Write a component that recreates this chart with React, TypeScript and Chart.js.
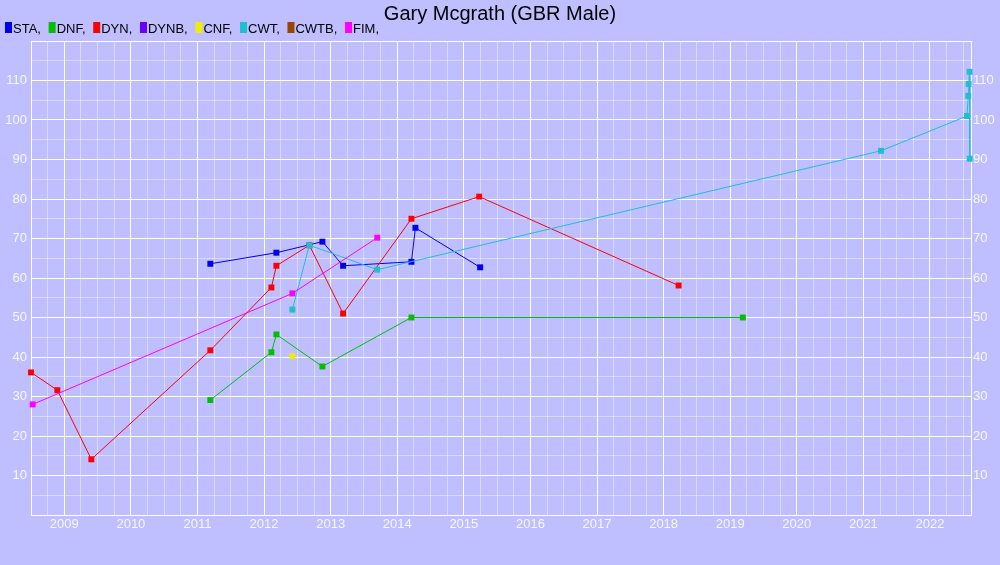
import React, { useEffect, useRef } from 'react';
import { Chart, registerables } from 'chart.js';

Chart.register(...registerables);

const chartTitle = 'Gary Mcgrath (GBR Male)';
const seriesNames = ['STA', 'DNF', 'DYN', 'DYNB', 'CNF', 'CWT', 'CWTB', 'FIM'];
const seriesColors = ['#0000EE', '#00C000', '#FF0000', '#6A00FF', '#EEEE00', '#1FBFCF', '#994400', '#FF00FF'];

// dates as decimal years, values in metres
const staDates = [2011.193, 2012.185, 2012.876, 2013.187, 2014.213, 2014.273, 2015.245];
const staValues = [63.6, 66.4, 69.2, 63.1, 64.1, 72.7, 62.7];

const dnfDates = [2011.193, 2012.11, 2012.185, 2012.876, 2014.213, 2019.19];
const dnfValues = [29.1, 41.2, 45.7, 37.6, 50.0, 50.0];

const dynDates = [2008.5, 2008.895, 2009.406, 2011.193, 2012.11, 2012.185, 2012.68, 2013.187, 2014.213, 2015.23, 2018.225];
const dynValues = [36.1, 31.6, 14.1, 41.7, 57.6, 63.1, 68.3, 51.0, 75.0, 80.6, 58.1];

const dynbDates: number[] = [];
const dynbValues: number[] = [];

const cnfDates = [2012.425];
const cnfValues = [40.2];

const cwtDates = [2012.425, 2012.68, 2013.7, 2021.264, 2022.555, 2022.575, 2022.58, 2022.595, 2022.597];
const cwtValues = [52.0, 68.3, 62.1, 92.2, 101.0, 106.1, 109.1, 112.2, 90.2];

const cwtbDates: number[] = [];
const cwtbValues: number[] = [];

const fimDates = [2008.525, 2012.425, 2013.7];
const fimValues = [28.0, 56.1, 70.2];

const seriesDates = [staDates, dnfDates, dynDates, dynbDates, cnfDates, cwtDates, cwtbDates, fimDates];
const seriesValues = [staValues, dnfValues, dynValues, dynbValues, cnfValues, cwtValues, cwtbValues, fimValues];

const yearTicks = [2009, 2010, 2011, 2012, 2013, 2014, 2015, 2016, 2017, 2018, 2019, 2020, 2021, 2022];
const valueTicks = [10, 20, 30, 40, 50, 60, 70, 80, 90, 100, 110];
const xMin = 2008.5;
const xMax = 2022.616;
const yMin = 0;
const yMax = 120;

const BG = '#BFBFFF';
const MAJOR = '#FFFFFF';
const MINOR = 'rgba(255,255,255,0.42)';
const LABEL = 'rgba(255,255,255,0.88)';
const FONT = '"Liberation Sans", Arial, sans-serif';

const decorPlugin = {
  id: 'decor',
  beforeDraw(chart: any) {
    const ctx = chart.ctx;
    ctx.save();
    ctx.fillStyle = BG;
    ctx.fillRect(0, 0, chart.width, chart.height);
    ctx.restore();
  },
  afterDraw(chart: any) {
    const ctx = chart.ctx;
    ctx.save();
    ctx.fillStyle = '#000000';
    ctx.font = '20px ' + FONT;
    ctx.textAlign = 'center';
    ctx.textBaseline = 'alphabetic';
    ctx.fillText(chartTitle, chart.width / 2, 19.5);
    ctx.font = '13px ' + FONT;
    ctx.textAlign = 'left';
    let x = 5;
    seriesNames.forEach((name, i) => {
      ctx.fillStyle = seriesColors[i];
      ctx.fillRect(x, 22, 7, 11);
      ctx.fillStyle = '#000000';
      const label = name + ',';
      ctx.fillText(label, x + 8, 32.5);
      x += 8 + ctx.measureText(label).width + 7.7;
    });
    ctx.restore();
  },
};

export default function App() {
  const ref = useRef<HTMLCanvasElement | null>(null);
  useEffect(() => {
    if (!ref.current) return;
    const datasets = seriesNames.map((name, i) => ({
      label: name,
      data: seriesDates[i].map((d, j) => ({ x: d, y: seriesValues[i][j] })),
      borderColor: seriesColors[i],
      backgroundColor: seriesColors[i],
      borderWidth: 1,
      pointStyle: 'rect',
      pointRadius: 4.2,
      pointBorderWidth: 0,
      pointBackgroundColor: seriesColors[i],
      showLine: true,
      fill: false,
      tension: 0,
      clip: false,
      order: seriesNames.length - i,
    }));
    const minorX: number[] = [];
    for (let y = yearTicks[0] - 1; y <= yearTicks[yearTicks.length - 1]; y++) {
      for (let q = 0; q < 4; q++) {
        const v = y + q * 0.25;
        if (v >= xMin && v <= xMax) minorX.push(v);
      }
    }
    const gridColor = (isMajor: (v: number) => boolean) => (c: any) =>
      c.tick && isMajor(c.tick.value) ? MAJOR : MINOR;
    const chart = new Chart(ref.current, {
      type: 'line',
      data: { datasets } as any,
      plugins: [decorPlugin],
      options: {
        responsive: false,
        animation: false,
        devicePixelRatio: 1,
        layout: { padding: { top: 41, left: 0, right: 0, bottom: 0 } },
        plugins: {
          legend: { display: false },
          title: { display: false },
          tooltip: { enabled: false },
        },
        scales: {
          x: {
            type: 'linear',
            min: xMin,
            max: xMax,
            afterBuildTicks: (s: any) => {
              s.ticks = minorX.map((v) => ({ value: v }));
            },
            afterFit: (s: any) => {
              s.height = 50;
            },
            grid: {
              color: gridColor((v) => yearTicks.includes(v)),
              lineWidth: 1,
              drawTicks: false,
            },
            border: { display: true, color: MAJOR, width: 1 },
            ticks: {
              autoSkip: false,
              maxRotation: 0,
              padding: 2,
              color: LABEL,
              font: { family: FONT, size: 13 },
              callback: (v: any) => (yearTicks.includes(Number(v)) ? String(v) : ''),
            },
          },
          y: {
            type: 'linear',
            position: 'left',
            min: yMin,
            max: yMax,
            afterBuildTicks: (s: any) => {
              const t: any[] = [];
              for (let v = yMin; v <= yMax; v += 5) t.push({ value: v });
              s.ticks = t;
            },
            afterFit: (s: any) => {
              s.width = 31;
            },
            grid: {
              color: gridColor((v) => v % 10 === 0),
              lineWidth: 1,
              drawTicks: false,
            },
            border: { display: true, color: MAJOR, width: 1 },
            ticks: {
              padding: 4,
              color: LABEL,
              font: { family: FONT, size: 13 },
              callback: (v: any) => (valueTicks.includes(Number(v)) ? String(v) : ''),
            },
          },
          y2: {
            type: 'linear',
            position: 'right',
            min: yMin,
            max: yMax,
            afterBuildTicks: (s: any) => {
              const t: any[] = [];
              for (let v = yMin; v <= yMax; v += 5) t.push({ value: v });
              s.ticks = t;
            },
            afterFit: (s: any) => {
              s.width = 29;
            },
            grid: { display: false, drawTicks: false },
            border: { display: true, color: MAJOR, width: 1 },
            ticks: {
              padding: 2,
              color: LABEL,
              font: { family: FONT, size: 13 },
              callback: (v: any) => (valueTicks.includes(Number(v)) ? String(v) : ''),
            },
          },
        },
      } as any,
    });
    return () => chart.destroy();
  }, []);
  return (
    <div style={{ position: 'absolute', left: 0, top: 0, width: 1000, height: 565, background: BG }}>
      <canvas ref={ref} width={1000} height={565} style={{ display: 'block' }} />
    </div>
  );
}
